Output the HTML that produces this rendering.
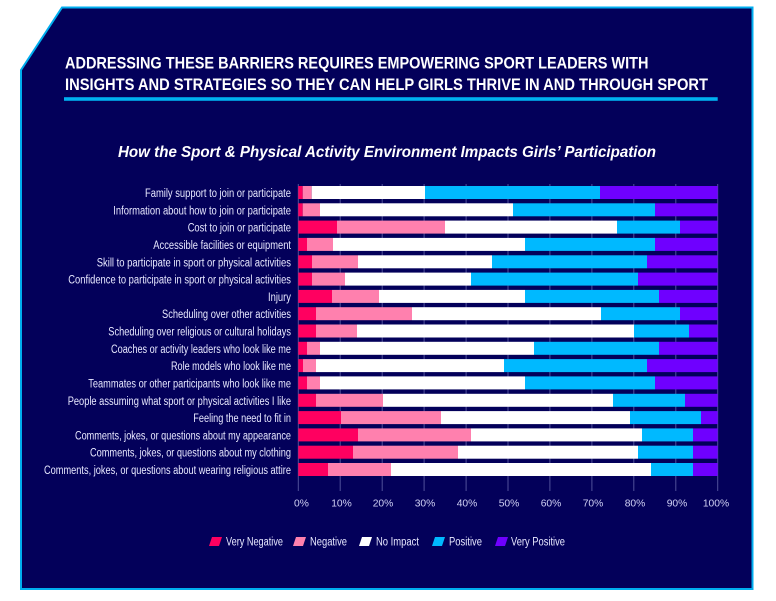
<!DOCTYPE html>
<html><head><meta charset="utf-8"><style>
html,body{margin:0;padding:0;background:#fff;}
svg{display:block;}
text{font-family:"Liberation Sans",sans-serif;}
</style></head><body>
<svg width="776" height="601" viewBox="0 0 776 601" xmlns="http://www.w3.org/2000/svg">
<rect width="776" height="601" fill="#ffffff"/>
<polygon points="62,7.5 752.5,7.5 752.5,589 21,589 21,70" fill="#03005a" stroke="#00aeef" stroke-width="2"/>

<text x="65" y="68.5" font-size="16.5" font-weight="bold" fill="#ffffff" textLength="583.5" lengthAdjust="spacingAndGlyphs">ADDRESSING THESE BARRIERS REQUIRES EMPOWERING SPORT LEADERS WITH</text>
<text x="65" y="90" font-size="16.5" font-weight="bold" fill="#ffffff" textLength="643" lengthAdjust="spacingAndGlyphs">INSIGHTS AND STRATEGIES SO THEY CAN HELP GIRLS THRIVE IN AND THROUGH SPORT</text>
<rect x="64" y="97.2" width="653.7" height="3.6" fill="#00b0f0"/>

<text x="118" y="157" font-size="15.5" font-weight="bold" font-style="italic" fill="#ffffff" textLength="538" lengthAdjust="spacingAndGlyphs">How the Sport &amp; Physical Activity Environment Impacts Girls’ Participation</text>

<g stroke="#50509a" stroke-width="1">
<line x1="298.3" y1="184" x2="298.3" y2="491"/>
<line x1="340.2" y1="184" x2="340.2" y2="491"/>
<line x1="382.2" y1="184" x2="382.2" y2="491"/>
<line x1="424.1" y1="184" x2="424.1" y2="491"/>
<line x1="466.1" y1="184" x2="466.1" y2="491"/>
<line x1="508.0" y1="184" x2="508.0" y2="491"/>
<line x1="549.9" y1="184" x2="549.9" y2="491"/>
<line x1="591.9" y1="184" x2="591.9" y2="491"/>
<line x1="633.8" y1="184" x2="633.8" y2="491"/>
<line x1="675.8" y1="184" x2="675.8" y2="491"/>
<line x1="717.7" y1="184" x2="717.7" y2="491"/>
</g>

<g font-size="10.3" fill="#d0d0f4" text-anchor="middle">
<text x="301.5" y="506.5">0%</text>
<text x="341.5" y="506.5">10%</text>
<text x="383" y="506.5">20%</text>
<text x="425" y="506.5">30%</text>
<text x="467" y="506.5">40%</text>
<text x="509" y="506.5">50%</text>
<text x="551" y="506.5">60%</text>
<text x="593" y="506.5">70%</text>
<text x="635" y="506.5">80%</text>
<text x="677" y="506.5">90%</text>
<text x="716" y="506.5">100%</text>
</g>

<g font-size="11.5" fill="#e8e8ff">
<polygon points="209,546 212,537 222,537 219,546" fill="#ff0060"/>
<text x="226" y="545.5" textLength="57" lengthAdjust="spacingAndGlyphs">Very Negative</text>
<polygon points="293,546 296,537 306,537 303,546" fill="#ff80ae"/>
<text x="310" y="545.5" textLength="37" lengthAdjust="spacingAndGlyphs">Negative</text>
<polygon points="359,546 362,537 372,537 369,546" fill="#ffffff"/>
<text x="376" y="545.5" textLength="43" lengthAdjust="spacingAndGlyphs">No Impact</text>
<polygon points="432,546 435,537 445,537 442,546" fill="#00b9ff"/>
<text x="449" y="545.5" textLength="33" lengthAdjust="spacingAndGlyphs">Positive</text>
<polygon points="495,546 498,537 508,537 505,546" fill="#6f00ff"/>
<text x="511" y="545.5" textLength="54" lengthAdjust="spacingAndGlyphs">Very Positive</text>
</g>

<g>
<g transform="translate(0,186)">
<rect x="298.3" width="4.4" height="13" fill="#ff0060"/><rect x="302.7" width="9" height="13" fill="#ff80ae"/><rect x="311.7" width="113.3" height="13" fill="#fff"/><rect x="425" width="175" height="13" fill="#00b9ff"/><rect x="600" width="117.7" height="13" fill="#6f00ff"/>
<text x="145" y="11" font-size="11.5" fill="#e8e8ff" textLength="146" lengthAdjust="spacingAndGlyphs">Family support to join or participate</text>
</g>
<g transform="translate(0,203.3)">
<rect x="298.3" width="4.4" height="13" fill="#ff0060"/><rect x="302.7" width="17.3" height="13" fill="#ff80ae"/><rect x="320" width="193" height="13" fill="#fff"/><rect x="513" width="142" height="13" fill="#00b9ff"/><rect x="655" width="62.7" height="13" fill="#6f00ff"/>
<text x="113.3" y="11" font-size="11.5" fill="#e8e8ff" textLength="177.7" lengthAdjust="spacingAndGlyphs">Information about how to join or participate</text>
</g>
<g transform="translate(0,220.6)">
<rect x="298.3" width="38.7" height="13" fill="#ff0060"/><rect x="337" width="108" height="13" fill="#ff80ae"/><rect x="445" width="172" height="13" fill="#fff"/><rect x="617" width="63" height="13" fill="#00b9ff"/><rect x="680" width="37.7" height="13" fill="#6f00ff"/>
<text x="187.7" y="11" font-size="11.5" fill="#e8e8ff" textLength="103.3" lengthAdjust="spacingAndGlyphs">Cost to join or participate</text>
</g>
<g transform="translate(0,237.9)">
<rect x="298.3" width="8.7" height="13" fill="#ff0060"/><rect x="307" width="26" height="13" fill="#ff80ae"/><rect x="333" width="192" height="13" fill="#fff"/><rect x="525" width="130" height="13" fill="#00b9ff"/><rect x="655" width="62.7" height="13" fill="#6f00ff"/>
<text x="153.3" y="11" font-size="11.5" fill="#e8e8ff" textLength="137.7" lengthAdjust="spacingAndGlyphs">Accessible facilities or equipment</text>
</g>
<g transform="translate(0,255.3)">
<rect x="298.3" width="13.7" height="13" fill="#ff0060"/><rect x="312" width="46" height="13" fill="#ff80ae"/><rect x="358" width="134" height="13" fill="#fff"/><rect x="492" width="155" height="13" fill="#00b9ff"/><rect x="647" width="70.7" height="13" fill="#6f00ff"/>
<text x="96.7" y="11" font-size="11.5" fill="#e8e8ff" textLength="194.3" lengthAdjust="spacingAndGlyphs">Skill to participate in sport or physical activities</text>
</g>
<g transform="translate(0,272.6)">
<rect x="298.3" width="13.7" height="13" fill="#ff0060"/><rect x="312" width="33" height="13" fill="#ff80ae"/><rect x="345" width="126" height="13" fill="#fff"/><rect x="471" width="167" height="13" fill="#00b9ff"/><rect x="638" width="79.7" height="13" fill="#6f00ff"/>
<text x="68.3" y="11" font-size="11.5" fill="#e8e8ff" textLength="222.7" lengthAdjust="spacingAndGlyphs">Confidence to participate in sport or physical activities</text>
</g>
<g transform="translate(0,289.9)">
<rect x="298.3" width="33.7" height="13" fill="#ff0060"/><rect x="332" width="47" height="13" fill="#ff80ae"/><rect x="379" width="146" height="13" fill="#fff"/><rect x="525" width="134" height="13" fill="#00b9ff"/><rect x="659" width="58.7" height="13" fill="#6f00ff"/>
<text x="268" y="11" font-size="11.5" fill="#e8e8ff" textLength="23" lengthAdjust="spacingAndGlyphs">Injury</text>
</g>
<g transform="translate(0,307.2)">
<rect x="298.3" width="17.7" height="13" fill="#ff0060"/><rect x="316" width="96" height="13" fill="#ff80ae"/><rect x="412" width="189" height="13" fill="#fff"/><rect x="601" width="79" height="13" fill="#00b9ff"/><rect x="680" width="37.7" height="13" fill="#6f00ff"/>
<text x="162" y="11" font-size="11.5" fill="#e8e8ff" textLength="129" lengthAdjust="spacingAndGlyphs">Scheduling over other activities</text>
</g>
<g transform="translate(0,324.5)">
<rect x="298.3" width="17.7" height="13" fill="#ff0060"/><rect x="316" width="41" height="13" fill="#ff80ae"/><rect x="357" width="277" height="13" fill="#fff"/><rect x="634" width="55" height="13" fill="#00b9ff"/><rect x="689" width="28.7" height="13" fill="#6f00ff"/>
<text x="108.3" y="11" font-size="11.5" fill="#e8e8ff" textLength="182.7" lengthAdjust="spacingAndGlyphs">Scheduling over religious or cultural holidays</text>
</g>
<g transform="translate(0,341.8)">
<rect x="298.3" width="8.7" height="13" fill="#ff0060"/><rect x="307" width="13" height="13" fill="#ff80ae"/><rect x="320" width="214" height="13" fill="#fff"/><rect x="534" width="125" height="13" fill="#00b9ff"/><rect x="659" width="58.7" height="13" fill="#6f00ff"/>
<text x="111" y="11" font-size="11.5" fill="#e8e8ff" textLength="180" lengthAdjust="spacingAndGlyphs">Coaches or activity leaders who look like me</text>
</g>
<g transform="translate(0,359.1)">
<rect x="298.3" width="4.7" height="13" fill="#ff0060"/><rect x="303" width="13" height="13" fill="#ff80ae"/><rect x="316" width="188" height="13" fill="#fff"/><rect x="504" width="143" height="13" fill="#00b9ff"/><rect x="647" width="70.7" height="13" fill="#6f00ff"/>
<text x="171" y="11" font-size="11.5" fill="#e8e8ff" textLength="120" lengthAdjust="spacingAndGlyphs">Role models who look like me</text>
</g>
<g transform="translate(0,376.4)">
<rect x="298.3" width="8.7" height="13" fill="#ff0060"/><rect x="307" width="13" height="13" fill="#ff80ae"/><rect x="320" width="205" height="13" fill="#fff"/><rect x="525" width="130" height="13" fill="#00b9ff"/><rect x="655" width="62.7" height="13" fill="#6f00ff"/>
<text x="88.3" y="11" font-size="11.5" fill="#e8e8ff" textLength="202.7" lengthAdjust="spacingAndGlyphs">Teammates or other participants who look like me</text>
</g>
<g transform="translate(0,393.8)">
<rect x="298.3" width="17.7" height="13" fill="#ff0060"/><rect x="316" width="67" height="13" fill="#ff80ae"/><rect x="383" width="230" height="13" fill="#fff"/><rect x="613" width="72" height="13" fill="#00b9ff"/><rect x="685" width="32.7" height="13" fill="#6f00ff"/>
<text x="67.7" y="11" font-size="11.5" fill="#e8e8ff" textLength="223.3" lengthAdjust="spacingAndGlyphs">People assuming what sport or physical activities I like</text>
</g>
<g transform="translate(0,411.1)">
<rect x="298.3" width="42.7" height="13" fill="#ff0060"/><rect x="341" width="100" height="13" fill="#ff80ae"/><rect x="441" width="189" height="13" fill="#fff"/><rect x="630" width="71" height="13" fill="#00b9ff"/><rect x="701" width="16.7" height="13" fill="#6f00ff"/>
<text x="193.3" y="11" font-size="11.5" fill="#e8e8ff" textLength="97.7" lengthAdjust="spacingAndGlyphs">Feeling the need to fit in</text>
</g>
<g transform="translate(0,428.4)">
<rect x="298.3" width="59.7" height="13" fill="#ff0060"/><rect x="358" width="113" height="13" fill="#ff80ae"/><rect x="471" width="171" height="13" fill="#fff"/><rect x="642" width="51" height="13" fill="#00b9ff"/><rect x="693" width="24.7" height="13" fill="#6f00ff"/>
<text x="75" y="11" font-size="11.5" fill="#e8e8ff" textLength="216" lengthAdjust="spacingAndGlyphs">Comments, jokes, or questions about my appearance</text>
</g>
<g transform="translate(0,445.7)">
<rect x="298.3" width="54.7" height="13" fill="#ff0060"/><rect x="353" width="105" height="13" fill="#ff80ae"/><rect x="458" width="180" height="13" fill="#fff"/><rect x="638" width="55" height="13" fill="#00b9ff"/><rect x="693" width="24.7" height="13" fill="#6f00ff"/>
<text x="90" y="11" font-size="11.5" fill="#e8e8ff" textLength="201" lengthAdjust="spacingAndGlyphs">Comments, jokes, or questions about my clothing</text>
</g>
<g transform="translate(0,463)">
<rect x="298.3" width="29.7" height="13" fill="#ff0060"/><rect x="328" width="63" height="13" fill="#ff80ae"/><rect x="391" width="260" height="13" fill="#fff"/><rect x="651" width="42" height="13" fill="#00b9ff"/><rect x="693" width="24.7" height="13" fill="#6f00ff"/>
<text x="44" y="11" font-size="11.5" fill="#e8e8ff" textLength="247" lengthAdjust="spacingAndGlyphs">Comments, jokes, or questions about wearing religious attire</text>
</g>
</g>
</svg>
</body></html>
